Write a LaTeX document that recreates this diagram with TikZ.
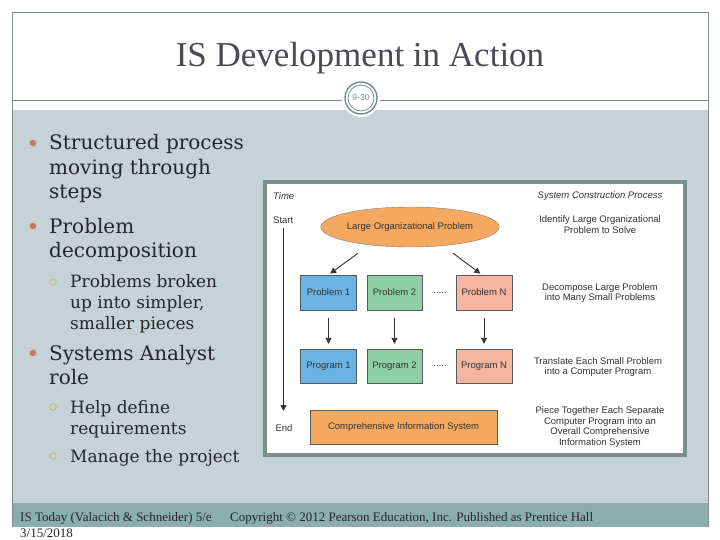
\documentclass[tikz,border=0pt]{standalone}
\usepackage{fontspec}
\setmainfont{DejaVu Serif}
\newfontfamily\titlefont{Liberation Serif}
\newfontfamily\figfont{Liberation Sans}
\usetikzlibrary{shapes.geometric,arrows.meta}

\definecolor{bodygray}{HTML}{C6D2D8}
\definecolor{footgray}{HTML}{8AAEAE}
\definecolor{framegray}{HTML}{7F8C8C}
\definecolor{ringgray}{HTML}{6F8F8F}
\definecolor{titlegray}{HTML}{4A4A55}
\definecolor{dotorange}{HTML}{D0705A}
\definecolor{ringolive}{HTML}{C2BE6A}
\definecolor{figframe}{HTML}{7A8E8E}
\definecolor{probblue}{HTML}{6BB3E3}
\definecolor{probgreen}{HTML}{8ECFA6}
\definecolor{probsalmon}{HTML}{F5B5A0}
\definecolor{bigorange}{HTML}{F5A860}

\begin{document}
\begin{tikzpicture}[x=1pt, y=-1pt,
    bul/.style={anchor=base west, align=left, inner sep=0pt, text=black!85,
        font=\fontsize{20}{24.5}\selectfont},
    subbul/.style={anchor=base west, align=left, inner sep=0pt, text=black!85,
        font=\fontsize{17}{21}\selectfont},
    figtext/.style={inner sep=0pt, text=black!80, font=\figfont\fontsize{9.5}{10.8}\selectfont},
    stepbox/.style={figtext, draw=black!65, minimum width=56pt, minimum height=35pt},
    note/.style={figtext, align=center},
    arr/.style={-{Triangle[length=6pt,width=6pt]}, line width=0.9pt, black!80}]

    % Slide background
    \useasboundingbox (0,0) rectangle (720,540);
    \fill[white] (0,0) rectangle (720,540);
    \fill[bodygray] (12,110) rectangle (708,503);
    \fill[footgray] (12,503) rectangle (708,527);
    \draw[framegray] (12,527) -- (12,12) -- (708,12) -- (708,527);
    \draw[framegray] (12,100) -- (708,100);

    % Title
    \node[text=titlegray, font=\titlefont\fontsize{35}{40}\selectfont] (title) at (360,58) {IS Development in Action};

    % Page badge
    \fill[white] (361,98) circle (19);
    \draw[ringgray, line width=1.4pt] (361,98) circle (16);
    \draw[ringgray, line width=0.8pt] (361,98) circle (13);
    \node[text=ringgray, font=\figfont\fontsize{8.5}{9}\selectfont] (badge) at (361,98) {9-30};

    % Bullets (anchored at the baseline of the last line)
    \fill[dotorange] (33,143) circle (3.2);
    \node[bul] (b1) at (49,199) {Structured process\\moving through\\steps};
    \fill[dotorange] (33,226) circle (3.2);
    \node[bul] (b2) at (49,257.5) {Problem\\decomposition};
    \draw[ringolive, line width=0.8pt] (53,282) circle (3.3);
    \node[subbul] (s1) at (70,329) {Problems broken\\up into simpler,\\smaller pieces};
    \fill[dotorange] (33,353) circle (3.2);
    \node[bul] (b3) at (49,384.5) {Systems Analyst\\role};
    \draw[ringolive, line width=0.8pt] (53,407) circle (3.3);
    \node[subbul] (s2) at (70,434) {Help define\\requirements};
    \draw[ringolive, line width=0.8pt] (53,456) circle (3.3);
    \node[subbul] (s3) at (70,462) {Manage the project};

    % Footer
    \node[anchor=base west, inner sep=0pt, text=black!85, font=\titlefont\fontsize{13}{15}\selectfont] (foot1) at (20,521) {IS Today (Valacich \& Schneider) 5/e};
    \node[anchor=base west, inner sep=0pt, text=black!85, font=\titlefont\fontsize{13}{15}\selectfont] (foot2) at (230,521) {Copyright \textcopyright{} 2012 Pearson Education, Inc. Published as Prentice Hall};
    \node[anchor=base west, inner sep=0pt, text=black!85, font=\titlefont\fontsize{13}{15}\selectfont] (date) at (20,537) {3/15/2018};

    % Figure frame
    \draw[figframe, fill=white, line width=4pt] (265,182) rectangle (685,455);

    % Time axis
    \node[figtext, anchor=west, font=\figfont\itshape\fontsize{9.5}{10.8}\selectfont] (time) at (273,196) {Time};
    \node[figtext, anchor=west] (start) at (273,220) {Start};
    \node[figtext] (end) at (284,428) {End};
    \coordinate (tstart) at (283.5,228);
    \coordinate (tend) at (283.5,411);
    \draw[arr] (tstart) -- (tend);

    % Process steps
    \node[figtext, font=\figfont\itshape\fontsize{9.5}{10.8}\selectfont] (process) at (600,196) {System Construction Process};
    \node[figtext, draw=black!50, fill=bigorange, ellipse, minimum width=174pt, minimum height=40pt] (large) at (410,227) {Large Organizational Problem};

    \node[stepbox, fill=probblue] (prob1) at (328.5,292.5) {Problem 1};
    \node[stepbox, fill=probgreen, minimum width=55pt] (prob2) at (394.5,292.5) {Problem 2};
    \node[stepbox, fill=probsalmon] (probN) at (484,292.5) {Problem N};
    \node[figtext] (dots1) at (440,293) {.....};

    \node[stepbox, fill=probblue, minimum height=34pt] (prog1) at (328.5,366) {Program 1};
    \node[stepbox, fill=probgreen, minimum width=55pt, minimum height=34pt] (prog2) at (394.5,366) {Program 2};
    \node[stepbox, fill=probsalmon, minimum height=34pt] (progN) at (484,366) {Program N};
    \node[figtext] (dots2) at (440,366) {.....};

    \node[stepbox, fill=bigorange, minimum width=187pt, minimum height=34pt] (system) at (403.5,427) {Comprehensive Information System};

    % Arrows
    \draw[arr, shorten >=2pt] ([xshift=-52pt, yshift=-6pt]large.south) -- (prob1.north);
    \draw[arr, shorten >=2pt] ([xshift=43pt, yshift=-6pt]large.south) -- ([xshift=-2pt]probN.north);
    \draw[arr, shorten <=8pt, shorten >=5pt] (prob1) -- (prog1);
    \draw[arr, shorten <=8pt, shorten >=5pt] (prob2) -- (prog2);
    \draw[arr, shorten <=8pt, shorten >=5pt] (probN) -- (progN);

    % Step notes
    \node[note] (note1) at (600,225) {Identify Large Organizational\\Problem to Solve};
    \node[note] (note2) at (600,293) {Decompose Large Problem\\into Many Small Problems};
    \node[note] (note3) at (598,367) {Translate Each Small Problem\\into a Computer Program};
    \node[note] (note4) at (600,427) {Piece Together Each Separate\\Computer Program into an\\Overall Comprehensive\\Information System};
\end{tikzpicture}
\end{document}
